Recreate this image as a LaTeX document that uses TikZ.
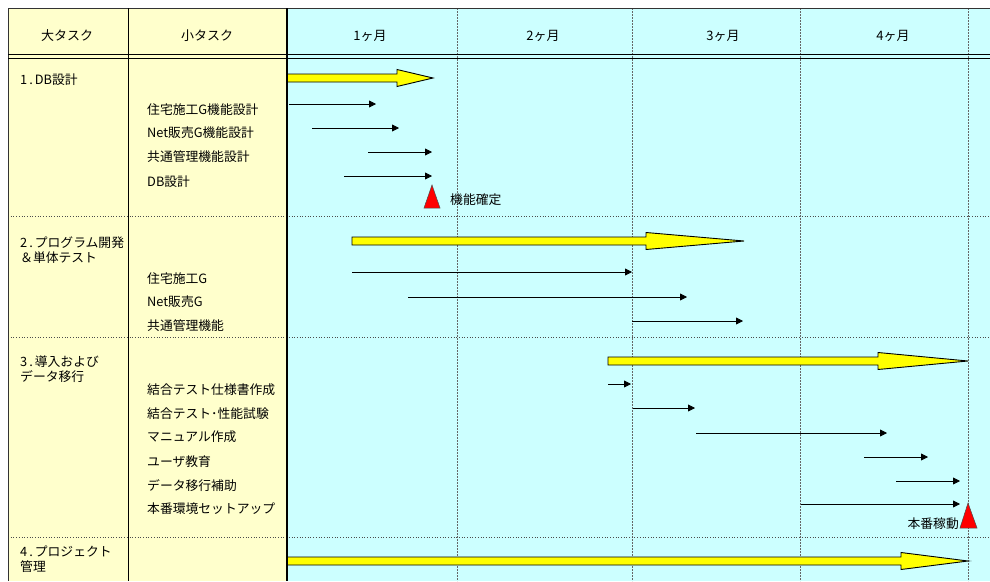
\documentclass[tikz,border=0pt]{standalone}
\usepackage{fontspec}
\setmainfont{Noto Sans CJK JP}
\usetikzlibrary{arrows.meta}
\definecolor{colbg}{HTML}{FFFFCC}
\definecolor{chartbg}{HTML}{CCFFFF}
\definecolor{barfill}{HTML}{FFFF00}
\tikzset{
  subtask/.style={-{Triangle[length=7pt,width=7pt]}, line width=0.8pt},
  bigbar/.style={fill=barfill, draw=black, line width=0.9pt},
  mstone/.style={fill=red, draw=black!70, line width=0.5pt},
  sepline/.style={dotted, black!70, line width=0.7pt},
  monthline/.style={dash pattern=on 2pt off 1pt, black!60, line width=0.6pt},
  head/.style={inner sep=0pt, font=\fontsize{13}{15}\selectfont},
  tasktext/.style={anchor=west, inner sep=0pt, align=left, font=\fontsize{12.8}{15}\selectfont},
}
\begin{document}
\begin{tikzpicture}[x=1pt,y=-1pt]
\useasboundingbox (0,0) rectangle (990,581);
% backgrounds
\fill[colbg] (8,8) rectangle (287,581);
\fill[chartbg] (287,8) rectangle (990,581);
% month grid and row separators
\foreach \x in {457,632,800,968} \draw[monthline] (\x,8) -- (\x,581);
\foreach \y in {216,337,537} \draw[sepline] (8,\y) -- (990,\y);
% frame
\draw[black!80, line width=0.8pt] (990,8) -- (8,8) -- (8,581);
\draw[line width=0.6pt] (128,8) -- (128,581);
\draw[line width=0.6pt] (8,54.5) -- (990,54.5);
\draw[line width=0.6pt] (8,58) -- (990,58);

% header
\node[head] (h1) at (67,36) {大タスク};
\node[head] (h2) at (207,36) {小タスク};
\node[head] (m1) at (370,36) {1ヶ月};
\node[head] (m2) at (543,36) {2ヶ月};
\node[head] (m3) at (723,36) {3ヶ月};
\node[head] (m4) at (893,36) {4ヶ月};

% main tasks
\node[tasktext] (t1) at (20,80) {1\hspace{2pt}.\hspace{2pt}DB設計};
\node[tasktext] (t2) at (20,250.5) {2\hspace{2pt}.\hspace{2pt}プログラム開発\\＆単体テスト};
\node[tasktext] (t3) at (20,369) {3\hspace{2pt}.\hspace{2pt}導入および\\データ移行};
\node[tasktext] (t4) at (20,559.5) {4\hspace{2pt}.\hspace{2pt}プロジェクト\\管理};

% sub tasks
\node[tasktext] (s11) at (147,110) {住宅施工G機能設計};
\node[tasktext] (s12) at (147,133) {Net販売G機能設計};
\node[tasktext] (s13) at (147,157) {共通管理機能設計};
\node[tasktext] (s14) at (147,182) {DB設計};
\node[tasktext] (s21) at (147,279) {住宅施工G};
\node[tasktext] (s22) at (147,302) {Net販売G};
\node[tasktext] (s23) at (147,326) {共通管理機能};
\node[tasktext] (s31) at (147,390) {結合テスト仕様書作成};
\node[tasktext] (s32) at (147,414) {結合テスト･性能試験};
\node[tasktext] (s33) at (147,437) {マニュアル作成};
\node[tasktext] (s34) at (147,462) {ユーザ教育};
\node[tasktext] (s35) at (147,486) {データ移行補助};
\node[tasktext] (s36) at (147,509) {本番環境セットアップ};

% big bars
\filldraw[bigbar] (287,74) -- (397,74) -- (397,69.5) -- (433,78) -- (397,86.5) -- (397,82) -- (287,82) -- cycle;
\filldraw[bigbar] (352,237) -- (646,237) -- (646,232.5) -- (744,241) -- (646,249.5) -- (646,245) -- (352,245) -- cycle;
\filldraw[bigbar] (608,357) -- (878,357) -- (878,352.5) -- (968,361) -- (878,369.5) -- (878,365) -- (608,365) -- cycle;
\filldraw[bigbar] (287,557) -- (901,557) -- (901,552.5) -- (968,561) -- (901,569.5) -- (901,565) -- (287,565) -- cycle;
\draw[line width=2.5pt] (287,8) -- (287,581);

% row 1 arrows
\coordinate (a11) at (289,104); \coordinate (b11) at (376,104);
\coordinate (a12) at (312,128); \coordinate (b12) at (399,128);
\coordinate (a13) at (368,152); \coordinate (b13) at (432,152);
\coordinate (a14) at (344,176); \coordinate (b14) at (432,176);
\draw[subtask] (a11) -- (b11);
\draw[subtask] (a12) -- (b12);
\draw[subtask] (a13) -- (b13);
\draw[subtask] (a14) -- (b14);

% row 2 arrows
\coordinate (a21) at (352,272); \coordinate (b21) at (632,272);
\coordinate (a22) at (408,297); \coordinate (b22) at (687,297);
\coordinate (a23) at (632,321); \coordinate (b23) at (743,321);
\draw[subtask] (a21) -- (b21);
\draw[subtask] (a22) -- (b22);
\draw[subtask] (a23) -- (b23);

% row 3 arrows
\coordinate (a31) at (608,384); \coordinate (b31) at (631,384);
\coordinate (a32) at (633,408); \coordinate (b32) at (695,408);
\coordinate (a33) at (696,433); \coordinate (b33) at (887,433);
\coordinate (a34) at (864,457); \coordinate (b34) at (928,457);
\coordinate (a35) at (896,481); \coordinate (b35) at (960,481);
\coordinate (a36) at (801,504); \coordinate (b36) at (960,504);
\draw[subtask] (a31) -- (b31);
\draw[subtask] (a32) -- (b32);
\draw[subtask] (a33) -- (b33);
\draw[subtask] (a34) -- (b34);
\draw[subtask] (a35) -- (b35);
\draw[subtask] (a36) -- (b36);

% milestones
\filldraw[mstone] (424,208) -- (432,185) -- (440,208) -- cycle;
\node[tasktext] (ms1) at (450,200) {機能確定};
\filldraw[mstone] (960,528) -- (968,503) -- (977,528) -- cycle;
\node[tasktext, anchor=east] (ms2) at (959,524) {本番稼動};

\end{tikzpicture}
\end{document}
